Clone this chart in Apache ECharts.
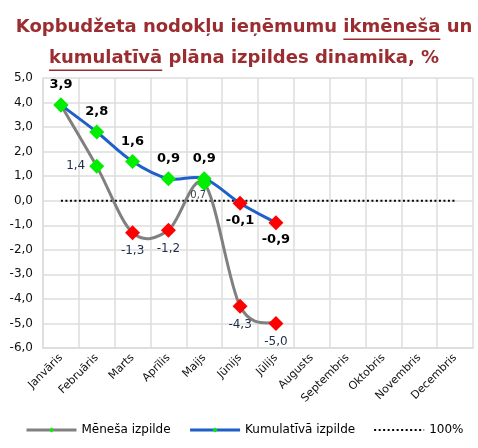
<!DOCTYPE html>
<html><head><meta charset="utf-8">
<script src="https://cdn.jsdelivr.net/npm/echarts@6/dist/echarts.min.js"></script>
<style>html,body{margin:0;padding:0;background:#fff}#c{width:478px;height:448px}</style>
</head><body><div id="c"></div>
<script>
const categories = ['Janvāris','Februāris','Marts','Aprīlis','Maijs','Jūnijs','Jūlijs','Augusts','Septembris','Oktobris','Novembris','Decembris'];
const monthly = [3.9, 1.4, -1.3, -1.2, 0.7, -4.3, -5.0];
const cumulative = [3.9, 2.8, 1.6, 0.9, 0.9, -0.1, -0.9];
const baseline = [0,0,0,0,0,0,0,0,0,0,0,0];
const seriesNames = ['Mēneša izpilde', 'Kumulatīvā izpilde', '100%'];
const titleLine1 = 'Kopbudžeta nodokļu ieņēmumu ikmēneša un';
const titleLine2 = 'kumulatīvā plāna izpildes dinamika, %';

const FONT = "'DejaVu Sans', Verdana, sans-serif";
const TITLE_COLOR = '#9b2d30';
const GRAY = '#808080';
const BLUE = '#1f5fc8';
const GRID = '#dcdcdc';
const fmt = v => v.toFixed(1).replace('.', ',');
const ptColor = p => (p.value >= 0 ? '#00ee00' : '#ff0000');

// label placement for monthly series
function monthlyLabel(i) {
  if (i === 0) return { show: false };
  if (i === 1) return { show: true, position: 'left', distance: 4 };
  if (i === 4) return { show: true, position: 'bottom', offset: [-6, -6], fontSize: 10, color: '#3c4650' };
  return { show: true, position: 'bottom', distance: 5 };
}

// Excel-like smooth curve drawn through the axis scales
function curveSeries(arr, color, z) {
  return {
    type: 'custom', silent: true, z: z,
    data: arr.map((v, i) => [i, v]),
    encode: { x: 0, y: 1 },
    renderItem: (params, api) => {
      const i = params.dataIndex;
      const n = arr.length;
      if (i >= n - 1) return null;
      const P = k => { const c = Math.max(0, Math.min(n - 1, k)); return api.coord([c, arr[c]]); };
      const p0 = P(i - 1), p1 = P(i), p2 = P(i + 1), p3 = P(i + 2);
      return {
        type: 'bezierCurve',
        shape: {
          x1: p1[0], y1: p1[1], x2: p2[0], y2: p2[1],
          cpx1: p1[0] + (p2[0] - p0[0]) / 6, cpy1: p1[1] + (p2[1] - p0[1]) / 6,
          cpx2: p2[0] - (p3[0] - p1[0]) / 6, cpy2: p2[1] - (p3[1] - p1[1]) / 6
        },
        style: { stroke: color, lineWidth: 3, fill: null, lineCap: 'round' }
      };
    }
  };
}

const chart = echarts.init(document.getElementById('c'), null, { renderer: 'canvas' });

const TITLE_SIZE = 18;
const TITLE_CX = 244;
const ctx = document.createElement('canvas').getContext('2d');
ctx.font = 'bold ' + TITLE_SIZE + 'px ' + FONT;
function underline(line, word, y) {
  const total = ctx.measureText(line).width;
  const start = TITLE_CX - total / 2 + ctx.measureText(line.slice(0, line.indexOf(word))).width;
  const w = ctx.measureText(word).width;
  return { type: 'rect', shape: { x: start, y: y, width: w, height: 1.6 }, style: { fill: TITLE_COLOR }, silent: true };
}

const option = {
  backgroundColor: '#fff',
  animation: false,
  title: {
    text: titleLine1 + '\n' + titleLine2,
    left: TITLE_CX, top: 12, textAlign: 'center', padding: 0,
    textStyle: { fontFamily: FONT, fontSize: TITLE_SIZE, fontWeight: 'bold', color: TITLE_COLOR, lineHeight: 31 }
  },
  graphic: [underline(titleLine1, 'ikmēneša', 38.5), underline(titleLine2, 'kumulatīvā', 69.5)],
  grid: { left: 43, right: 5, top: 78, bottom: 100, containLabel: false },
  legend: {
    top: 419, left: 20, itemWidth: 50, itemHeight: 6, itemGap: 18,
    textStyle: { fontFamily: FONT, fontSize: 12, color: '#000' },
    data: [
      { name: seriesNames[0], itemStyle: { color: '#00ee00' }, lineStyle: { color: GRAY, width: 3, opacity: 1 } },
      { name: seriesNames[1], itemStyle: { color: '#00ee00' }, lineStyle: { color: BLUE, width: 3, opacity: 1 } },
      { name: seriesNames[2], itemStyle: { opacity: 0 } }
    ]
  },
  xAxis: {
    type: 'category', data: categories, boundaryGap: true,
    axisLine: { onZero: false, lineStyle: { color: GRID, width: 1.5 } },
    axisTick: { show: false },
    splitLine: { show: true, lineStyle: { color: GRID, width: 1.5 } },
    axisLabel: { rotate: 45, interval: 0, fontFamily: FONT, fontSize: 11, color: '#111', margin: 8 }
  },
  yAxis: {
    type: 'value', min: -6, max: 5, interval: 1,
    axisLine: { show: true, lineStyle: { color: GRID, width: 1.5 } },
    axisTick: { show: false },
    splitLine: { lineStyle: { color: GRID, width: 1.5 } },
    axisLabel: { formatter: v => fmt(v), fontFamily: FONT, fontSize: 12, color: '#111', margin: 10 }
  },
  series: [
    {
      name: seriesNames[2], type: 'line', data: baseline, symbol: 'none', silent: true,
      lineStyle: { color: '#000', width: 2, type: [2, 2.5] }, z: 1
    },
    curveSeries(monthly, GRAY, 2),
    curveSeries(cumulative, BLUE, 3),
    {
      name: seriesNames[0], type: 'line',
      data: monthly.map((v, i) => ({ value: v, label: monthlyLabel(i) })),
      symbol: 'diamond', symbolSize: 15,
      lineStyle: { color: GRAY, width: 3, opacity: 0 },
      itemStyle: { color: ptColor },
      label: { fontFamily: FONT, fontSize: 12, color: '#1f2d4a', formatter: p => fmt(p.value) },
      z: 4
    },
    {
      name: seriesNames[1], type: 'line',
      data: cumulative.map(v => ({ value: v, label: v >= 0 ? { position: 'top', distance: 6 } : { position: 'bottom', distance: 3 } })),
      symbol: 'diamond', symbolSize: 15,
      lineStyle: { color: BLUE, width: 3, opacity: 0 },
      itemStyle: { color: ptColor },
      label: { show: true, fontFamily: FONT, fontSize: 13, fontWeight: 'bold', color: '#000', formatter: p => fmt(p.value) },
      z: 5
    }
  ]
};
chart.setOption(option);
</script>
</body></html>
